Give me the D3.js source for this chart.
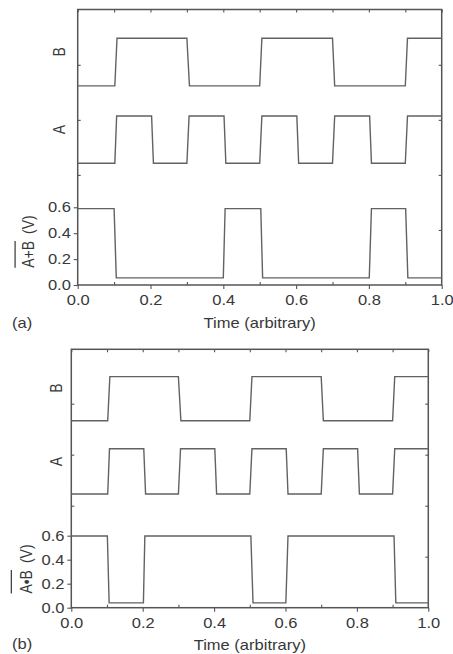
<!DOCTYPE html>
<html>
<head>
<meta charset="utf-8">
<script src="https://cdn.jsdelivr.net/npm/d3@7"></script>
<style>
  body { margin: 0; background: #fff; }
  text { font-family: "Liberation Sans", Arial, sans-serif; fill: #383838; }
</style>
</head>
<body>
<div id="chart"></div>
<script>
// time axis ticks and volt axis ticks
const timeTicks = [0, 0.2, 0.4, 0.6, 0.8, 1.0];
const timeMinor = [0.1, 0.3, 0.5, 0.7, 0.9];
const voltTicks = [0, 0.2, 0.4, 0.6];
const voltMinorLeft = [0.85, 1.275, 1.7];
const voltMinorRight = [0.425, 0.85, 1.275, 1.7];

// logic inputs: [time, state 0/1]
const inputB = [[0, 0], [0.102, 0], [0.108, 1], [0.3, 1], [0.307, 0], [0.5, 0], [0.506, 1],
                [0.7, 1], [0.706, 0], [0.9, 0], [0.906, 1], [1, 1]];
const inputA = [[0, 0], [0.102, 0], [0.107, 1], [0.203, 1], [0.208, 0], [0.3, 0], [0.306, 1],
                [0.402, 1], [0.407, 0], [0.5, 0], [0.506, 1], [0.602, 1], [0.607, 0],
                [0.7, 0], [0.706, 1], [0.802, 1], [0.807, 0], [0.9, 0], [0.906, 1], [1, 1]];

// gate outputs in volts: [time, V]
const norOut = [[0, 0.59], [0.1, 0.59], [0.106, 0.055], [0.4, 0.055], [0.405, 0.59],
                [0.503, 0.59], [0.508, 0.055], [0.801, 0.055], [0.807, 0.59],
                [0.901, 0.59], [0.907, 0.055], [1, 0.055]];
const nandOut = [[0, 0.597], [0.101, 0.597], [0.106, 0.04], [0.202, 0.04], [0.206, 0.597],
                 [0.503, 0.597], [0.509, 0.04], [0.601, 0.04], [0.607, 0.597],
                 [0.904, 0.597], [0.909, 0.04], [1, 0.04]];

const panels = [
  { tag: "(a)", gate: "A+B", out: norOut,
    left: 77.7, right: 441.7, top: 9.5, bottom: 285, vTop: 2.127,
    levB: [1.537, 1.905], levA: [0.94, 1.305], labV: [1.8, 1.2],
    labX: 60, yLab: [33.5, 241.5], ov: 15.6, tagY: 328, titleY: 327.5 },
  { tag: "(b)", gate: "A\u2022B", out: nandOut,
    left: 71.3, right: 428.3, top: 349.3, bottom: 607.7, vTop: 2.153,
    levB: [1.558, 1.925], levA: [0.9475, 1.325], labV: [1.83, 1.217],
    labX: 57, yLab: [32, 569], ov: 17.5, tagY: 649, titleY: 649.5 }
];

const svg = d3.select("#chart").append("svg")
  .attr("width", 453).attr("height", 654);

const ink = "#555", trace = "#626262", sx = "scale(1.18,1)", fs = 14;

panels.forEach(p => {
  const g = svg.append("g");
  const x = d3.scaleLinear().domain([0, 1]).range([p.left, p.right]);
  const y = d3.scaleLinear().domain([0, p.vTop]).range([p.bottom, p.top]);
  const lvB = d3.scaleLinear().domain([0, 1]).range(p.levB);
  const lvA = d3.scaleLinear().domain([0, 1]).range(p.levA);

  const tidy = sel => {
    sel.select(".domain").remove();
    sel.selectAll(".tick line").attr("stroke", ink).attr("stroke-width", 1.1);
  };

  // bottom axis
  g.append("g").attr("transform", `translate(0,${p.bottom})`)
    .call(d3.axisBottom(x).tickValues(timeTicks).tickFormat(d3.format(".1f"))
      .tickSize(4).tickPadding(6))
    .call(tidy)
    .selectAll("text").attr("font-size", fs).attr("transform", sx);
  g.append("g").attr("transform", `translate(0,${p.bottom})`)
    .call(d3.axisBottom(x).tickValues(timeMinor).tickFormat("").tickSize(-3))
    .call(tidy);

  // top axis
  g.append("g").attr("transform", `translate(0,${p.top})`)
    .call(d3.axisTop(x).tickValues(timeTicks.concat(timeMinor)).tickFormat("").tickSize(-3))
    .call(tidy);

  // left axis
  g.append("g").attr("transform", `translate(${p.left},0)`)
    .call(d3.axisLeft(y).tickValues(voltTicks).tickFormat(d3.format(".1f")).tickSize(4))
    .call(tidy)
    .selectAll("text").attr("font-size", fs).attr("x", -5.8).attr("transform", sx);
  g.append("g").attr("transform", `translate(${p.left},0)`)
    .call(d3.axisLeft(y).tickValues(voltMinorLeft).tickFormat("").tickSize(-3))
    .call(tidy);

  // right axis
  g.append("g").attr("transform", `translate(${p.right},0)`)
    .call(d3.axisRight(y).tickValues(voltMinorRight).tickFormat("").tickSize(-3))
    .call(tidy);

  // frame
  g.append("rect")
    .attr("x", p.left).attr("y", p.top)
    .attr("width", p.right - p.left).attr("height", p.bottom - p.top)
    .attr("fill", "none").attr("stroke", ink).attr("stroke-width", 1.5);

  // traces
  const line = lv => d3.line().x(d => x(d[0])).y(d => y(lv(d[1])));
  [[inputB, lvB], [inputA, lvA], [p.out, v => v]].forEach(([data, lv]) => {
    g.append("path").datum(data)
      .attr("d", line(lv))
      .attr("fill", "none").attr("stroke", trace).attr("stroke-width", 1.4);
  });

  // channel labels B / A
  [["B", p.labV[0]], ["A", p.labV[1]]].forEach(([t, v]) => {
    g.append("text")
      .attr("transform", `translate(${p.labX + 5},${y(v)}) ${sx} rotate(-90)`)
      .attr("text-anchor", "middle").attr("font-size", fs).text(t);
  });

  // y axis title with overline
  const yl = g.append("g").attr("transform", `translate(${p.yLab[0]},${p.yLab[1]}) ${sx} rotate(-90)`);
  const yt = yl.append("text").attr("text-anchor", "middle").attr("font-size", fs);
  yt.append("tspan").text(p.gate);
  yt.append("tspan").attr("dx", 7).text("(V)");
  const bb = yt.node().getBBox();
  const glen = yt.node().getSubStringLength(0, p.gate.length);
  yl.append("line")
    .attr("x1", bb.x).attr("x2", bb.x + glen)
    .attr("y1", -p.ov).attr("y2", -p.ov)
    .attr("stroke", "#444").attr("stroke-width", 1.1);

  // x axis title
  g.append("text")
    .attr("transform", `translate(${(p.left + p.right) / 2},${p.titleY}) ${sx}`)
    .attr("text-anchor", "middle").attr("font-size", fs).text("Time (arbitrary)");

  // panel tag
  g.append("text")
    .attr("transform", `translate(12,${p.tagY}) ${sx}`)
    .attr("font-family", "Liberation Serif, Times New Roman, serif")
    .attr("font-size", 14).text(p.tag);
});
</script>
</body>
</html>
